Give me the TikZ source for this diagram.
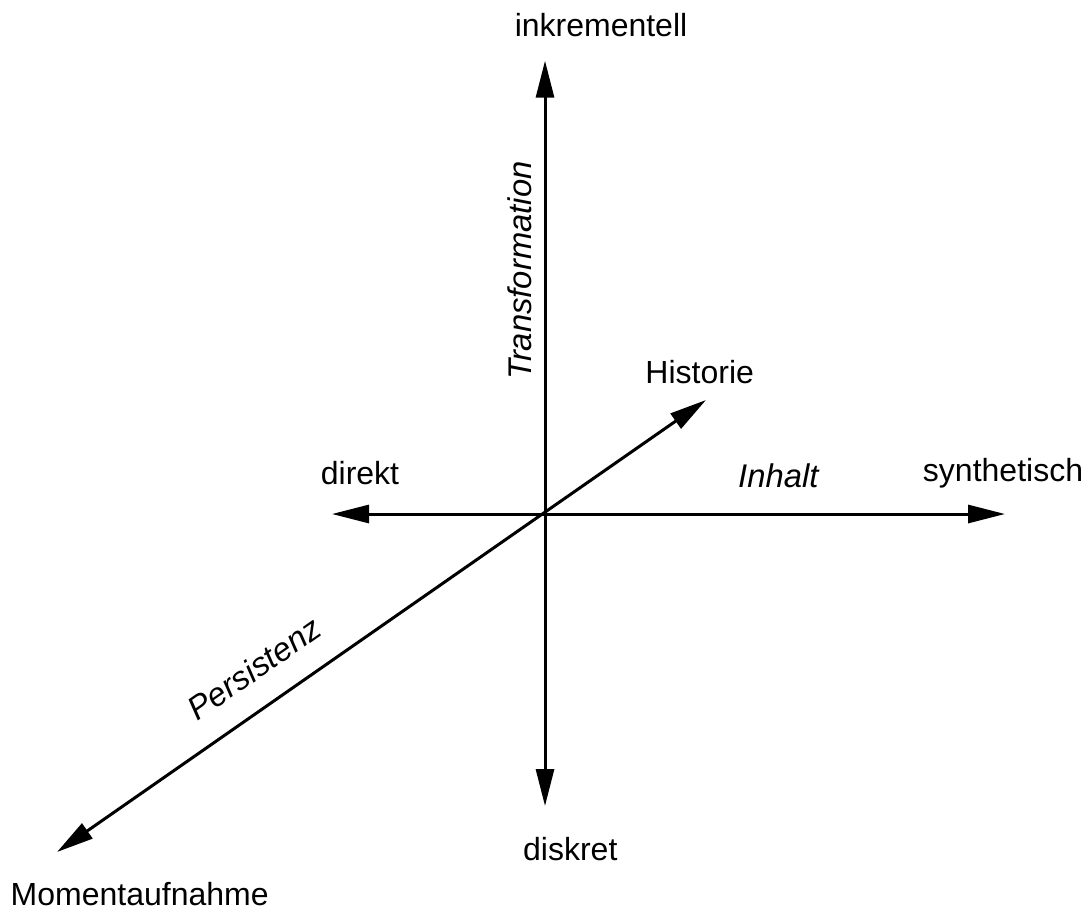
\documentclass[tikz,border=0pt]{standalone}
\usepackage{fontspec}
\setmainfont{Liberation Sans}
\usetikzlibrary{arrows.meta}
\begin{document}
\begin{tikzpicture}[x=0.5pt,y=-0.5pt,
  axis/.style={line width=1.5pt,{Triangle[length=18.5pt,width=9pt]}-{Triangle[length=18.5pt,width=9pt]}},
  lbl/.style={inner sep=0pt,anchor=base,font=\fontsize{16}{19}\selectfont},
  ilbl/.style={lbl,font=\fontsize{16.4}{19}\selectfont\itshape}]
\useasboundingbox (0,0) rectangle (1090,911);
% axis end points
\coordinate (top) at (545,60.7);
\coordinate (bottom) at (545,806);
\coordinate (left) at (332,514);
\coordinate (right) at (1005,514);
\coordinate (back) at (706,400);
\coordinate (front) at (57,852);
% axes
\draw[axis] (bottom) -- (top);
\draw[axis] (left) -- (right);
\draw[axis] (front) -- (back);
% end labels
\node[lbl] (inkr) at (601,36.7) {inkrementell};
\node[lbl] (disk) at (570.3,860) {diskret};
\node[lbl] (dir) at (360,484) {direkt};
\node[lbl] (syn) at (1003,481.7) {synthetisch};
\node[lbl] (hist) at (699.7,383) {Historie};
\node[lbl] (mom) at (139.7,905) {Momentaufnahme};
% axis names
\node[ilbl,rotate=90] (trans) at (531,270.5) {Transformation};
\node[ilbl] (inh) at (778.3,487.7) {Inhalt};
\node[ilbl,rotate=34.86] (pers) at (260.8,677.9) {Persistenz};
\end{tikzpicture}
\end{document}
